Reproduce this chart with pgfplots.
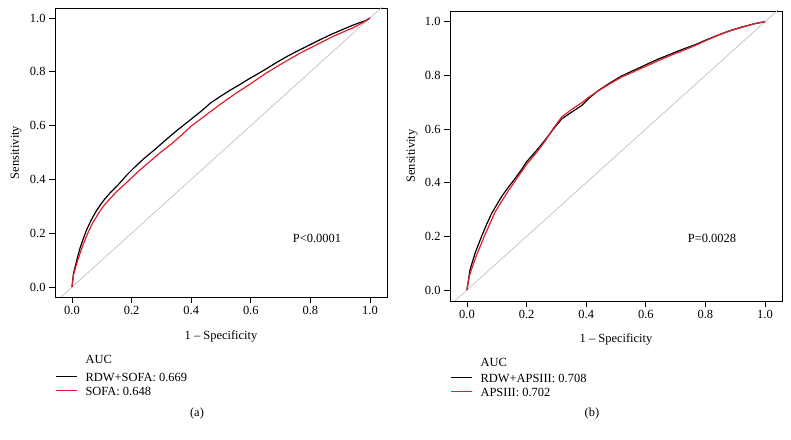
\documentclass[border=0pt]{standalone}
\usepackage{pgfplots}
\pgfplotsset{compat=1.18}
\usepackage{fontspec}
\setmainfont{Liberation Serif}
\definecolor{rocred}{RGB}{225,30,45}
\definecolor{diag}{RGB}{185,185,185}
\newcommand{\ff}{\fontsize{12.5}{14}\selectfont}
\pgfplotsset{
  rocaxis/.style={
    scale only axis, width=332bp,
    xmin=-0.057, xmax=1.057,
    axis line style={line width=0.8bp},
    xtick={0,0.2,...,1.0}, ytick={0,0.2,...,1.0},
    xticklabels={0.0,0.2,0.4,0.6,0.8,1.0},
    yticklabels={0.0,0.2,0.4,0.6,0.8,1.0},
    tick align=outside, major tick length=6bp,
    tick style={line width=0.8bp, black},
    xtick pos=bottom, ytick pos=left,
    /pgf/number format/assume math mode=true,
    ticklabel style={font=\ff},
    label style={font=\ff},
    xlabel={1 -- Specificity}, ylabel={Sensitivity},
    clip=true,
  }
}
\begin{document}
\begin{tikzpicture}
\path[use as bounding box] (0,0) rectangle (791bp,440bp);
% ---------- panel (a)
\begin{axis}[rocaxis, height=289bp, ymin=-0.037, ymax=1.037,
  at={(55bp,143bp)}, anchor=south west,
  xlabel style={at={(axis description cs:0.5,-0.138)}, anchor=center},
  ylabel style={at={(axis description cs:-0.117,0.5)}, anchor=center}]
\addplot[diag, line width=0.6bp] coordinates {(-0.2,-0.2) (1.2,1.2)};
\addplot[black, line width=1.2bp] coordinates {
(0,0) (0.005,0.05) (0.016,0.10) (0.027,0.145) (0.038,0.18) (0.05,0.215) (0.065,0.25) (0.08,0.28) (0.095,0.305) (0.11,0.327) (0.128,0.35) (0.155,0.38) (0.183,0.415) (0.21,0.445) (0.24,0.476) (0.28,0.513) (0.318,0.55) (0.35,0.58) (0.39,0.615) (0.435,0.655) (0.465,0.684) (0.497,0.708) (0.53,0.731) (0.564,0.753) (0.59,0.771) (0.62,0.79) (0.655,0.813) (0.687,0.835) (0.725,0.859) (0.765,0.882) (0.80,0.901) (0.832,0.919) (0.87,0.939) (0.91,0.958) (0.94,0.972) (0.966,0.983) (0.985,0.99) (1,1)};
\addplot[rocred, line width=1.2bp] coordinates {
(0,0) (0.005,0.045) (0.016,0.088) (0.027,0.125) (0.038,0.16) (0.055,0.205) (0.07,0.24) (0.09,0.275) (0.105,0.30) (0.125,0.325) (0.15,0.355) (0.18,0.385) (0.223,0.43) (0.27,0.475) (0.30,0.503) (0.334,0.532) (0.368,0.565) (0.40,0.598) (0.436,0.628) (0.49,0.673) (0.541,0.713) (0.60,0.756) (0.653,0.796) (0.71,0.834) (0.765,0.869) (0.82,0.9) (0.877,0.932) (0.944,0.964) (0.975,0.982) (1,1)};
\node[anchor=center, font=\ff] at (axis cs:0.822,0.179) {P<0.0001};
\end{axis}
% ---------- panel (b)
\begin{axis}[rocaxis, height=290bp, ymin=-0.041, ymax=1.040,
  at={(450bp,139bp)}, anchor=south west,
  xlabel style={at={(axis description cs:0.5,-0.134)}, anchor=center},
  ylabel style={at={(axis description cs:-0.114,0.5)}, anchor=center}]
\addplot[diag, line width=0.6bp] coordinates {(-0.2,-0.2) (1.2,1.2)};
\addplot[black, line width=1.2bp] coordinates {
(0,0) (0.004,0.03) (0.01,0.075) (0.027,0.137) (0.049,0.20) (0.066,0.245) (0.083,0.286) (0.10,0.318) (0.116,0.348) (0.14,0.385) (0.161,0.415) (0.185,0.452) (0.20,0.478) (0.235,0.522) (0.262,0.559) (0.29,0.60) (0.318,0.638) (0.35,0.662) (0.385,0.688) (0.41,0.715) (0.44,0.743) (0.48,0.772) (0.519,0.798) (0.56,0.819) (0.597,0.838) (0.64,0.86) (0.687,0.881) (0.725,0.898) (0.765,0.914) (0.80,0.931) (0.84,0.949) (0.88,0.966) (0.922,0.98) (0.966,0.993) (1,1)};
\addplot[rocred, line width=1.2bp] coordinates {
(0,0) (0.004,0.03) (0.01,0.06) (0.032,0.13) (0.06,0.205) (0.094,0.29) (0.116,0.33) (0.139,0.37) (0.17,0.42) (0.20,0.468) (0.235,0.515) (0.262,0.555) (0.29,0.603) (0.318,0.645) (0.35,0.672) (0.385,0.698) (0.41,0.72) (0.44,0.742) (0.48,0.769) (0.519,0.794) (0.56,0.814) (0.597,0.832) (0.64,0.854) (0.687,0.876) (0.725,0.893) (0.765,0.911) (0.80,0.929) (0.84,0.948) (0.88,0.965) (0.922,0.979) (0.966,0.993) (1,1)};
\node[anchor=center, font=\ff] at (axis cs:0.822,0.194) {P=0.0028};
\end{axis}
% ---------- legends and captions
\begin{scope}[font=\ff]
\node[anchor=west] at (82bp,81bp) {AUC};
\draw[black, line width=1bp] (56bp,63bp) -- (77bp,63bp);
\node[anchor=west] at (82bp,63bp) {RDW+SOFA: 0.669};
\draw[rocred, line width=1bp] (56bp,49bp) -- (77bp,49bp);
\node[anchor=west] at (82bp,49bp) {SOFA: 0.648};
\node at (197bp,26bp) {(a)};
\node[anchor=west] at (477bp,78bp) {AUC};
\draw[black, line width=1bp] (451bp,62bp) -- (472bp,62bp);
\node[anchor=west] at (477bp,62bp) {RDW+APSIII: 0.708};
\draw[rocred, line width=1bp] (451bp,48bp) -- (472bp,48bp);
\node[anchor=west] at (477bp,48bp) {APSIII: 0.702};
\node at (592bp,26bp) {(b)};
\end{scope}
\end{tikzpicture}
\end{document}
